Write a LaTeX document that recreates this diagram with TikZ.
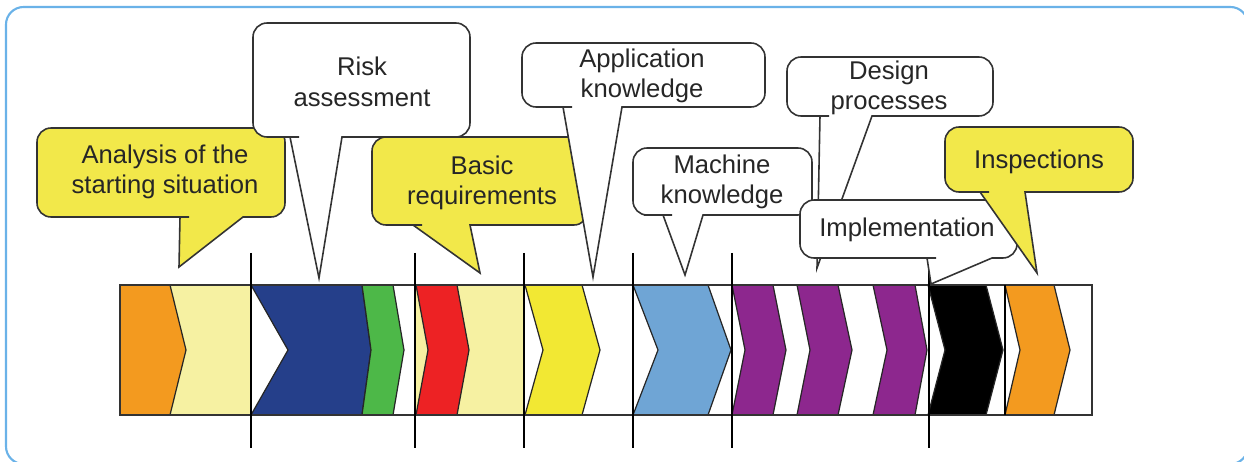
\documentclass[tikz,border=0pt]{standalone}
\usepackage{fontspec}
\setmainfont{Liberation Sans}
\usepackage{tikz}
\usetikzlibrary{arrows.meta,positioning,calc}

\definecolor{frameblue}{HTML}{6AB2E8}
\definecolor{callyellow}{HTML}{F2E84A}
\definecolor{paleyellow}{HTML}{F6F1A2}
\definecolor{stepyellow}{HTML}{F2E833}
\definecolor{steporange}{HTML}{F39A1F}
\definecolor{stepnavy}{HTML}{253F8A}
\definecolor{stepgreen}{HTML}{4DB848}
\definecolor{stepred}{HTML}{ED2224}
\definecolor{steplblue}{HTML}{6FA5D5}
\definecolor{steppurple}{HTML}{8D278E}

% chevron in the bar: fill, left, notch, right, point
\newcommand{\chevron}[5]{%
  \filldraw[chev,fill=#1] (#2,285) -- (#4,285) -- (#5,350) -- (#4,415) -- (#2,415) -- (#3,350) -- cycle;}
% speech bubble: fill, x1, y1, x2, y2, tail base left, tip x, tip y, tail base right
\newcommand{\bubble}[9]{%
  \filldraw[bub,fill=#1] ({(#2+#4)/2},#3) [rounded corners=8pt] -- (#2,#3) -- (#2,#5) -- ({#6-5},#5)
    [sharp corners] -- (#6,#5) -- (#7,#8) -- (#9,#5) -- ({#9+5},#5)
    [rounded corners=8pt] -- (#4,#5) -- (#4,#3) -- cycle;}

\begin{document}
\begin{tikzpicture}[
  x=0.02cm,y=-0.02cm,
  every node/.style={font=\fontsize{14.6}{17.3}\selectfont,align=center,text=black!85},
  chev/.style={draw=black!85,line width=0.7pt,line join=miter},
  bub/.style={draw=black!80,line width=0.9pt},
  sep/.style={draw=black,line width=0.8pt},
  frame/.style={draw=frameblue,line width=1.2pt,rounded corners=10pt}
]
\useasboundingbox (0,0) rectangle (1244,462);
\begin{scope}
\clip (0,0) rectangle (1244,462);
\draw[frame] (6,7) rectangle (1248,464);
\end{scope}

% bar
\fill[paleyellow] (120,285) rectangle (251,415);
\fill[paleyellow] (415,285) rectangle (524,415);
\chevron{steporange}{120}{120}{170}{186}
\chevron{stepnavy}{251}{288}{362}{371}
\chevron{stepgreen}{362}{371}{393}{404}
\chevron{stepred}{416}{428}{457}{469}
\chevron{stepyellow}{525}{543}{582}{600}
\chevron{steplblue}{633}{658}{708}{731}
\chevron{steppurple}{732}{745}{773}{786}
\chevron{steppurple}{797}{810}{838}{852}
\chevron{steppurple}{873}{887}{915}{927}
\chevron{black}{928}{945}{986}{1003}
\chevron{steporange}{1005}{1020}{1054}{1070}
\draw[black!80,line width=0.8pt] (120,285) rectangle (1092,415);
\draw[sep] (1005,285) -- (1005,415);
\foreach \x in {251,415,524,633,732,929}
  \draw[sep] (\x,253) -- (\x,448);

% callouts
\bubble{callyellow}{37}{128}{285}{217}{180}{179}{267}{243}
\node (analysis) at (165,172) {Analysis of the\\starting situation};
\bubble{white}{253}{23}{470}{137}{290}{319}{278}{342}
\node (risk) at (362,82) {Risk\\assessment};
\bubble{callyellow}{372}{137}{588}{225}{413}{480}{273}{470}
\node (basic) at (482,183) {Basic\\requirements};
\bubble{white}{522}{43}{765}{107}{563}{593}{277}{622}
\node (appl) at (642,76) {Application\\knowledge};
\bubble{white}{633}{148}{812}{215}{663}{685}{275}{703}
\node (machine) at (722,182) {Machine\\knowledge};
\bubble{white}{787}{57}{993}{116}{820}{817}{268}{872}
\node (design) at (889,88) {Design\\processes};
\bubble{white}{800}{200}{1017}{258}{927}{931}{284}{992}
\node (impl) at (907,230) {Implementation};
\bubble{callyellow}{945}{127}{1133}{192}{980}{1037}{273}{1025}
\node (insp) at (1039,162) {Inspections};
\end{tikzpicture}
\end{document}
